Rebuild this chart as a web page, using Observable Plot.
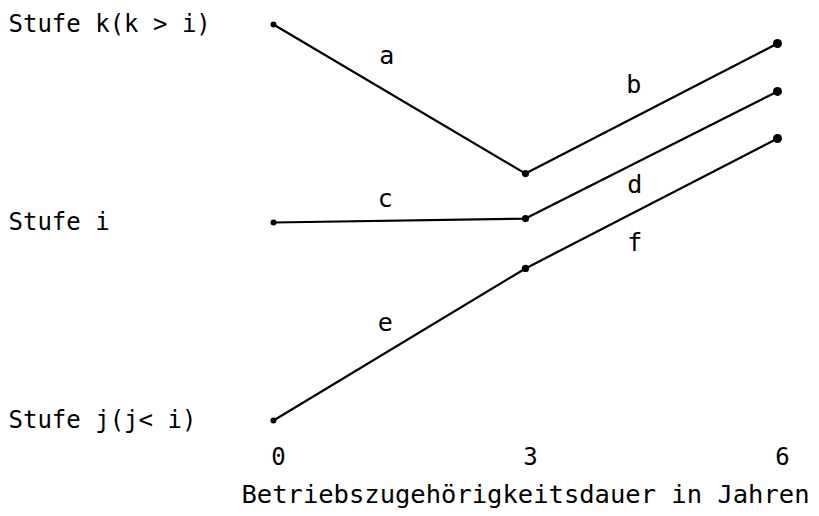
<!DOCTYPE html>
<html>
<head>
<meta charset="utf-8">
<script src="https://cdn.jsdelivr.net/npm/d3@7"></script>
<script src="https://cdn.jsdelivr.net/npm/@observablehq/plot@0.6"></script>
<style>
  html, body { margin: 0; padding: 0; background: #fff; }
</style>
</head>
<body>
<div id="chart"></div>
<script>
// Years of tenure (x) and pay levels (y)
const years = [0, 3, 6];
const yearLabels = ["0", "3", "6"];
const levelValues = [0, 1, 2];
const levelLabels = ["Stufe j(j< i)", "Stufe i", "Stufe k(k > i)"];

// Three paths, value at years 0, 3, 6
const seriesK = [2, 1.247, 1.904];   // segments a, b
const seriesI = [1, 1.02, 1.662];    // segments c, d
const seriesJ = [0, 0.768, 1.424];   // segments e, f

// Segment labels (data units)
const segmentNames = ["a", "b", "c", "d", "e", "f"];
const segmentX = [1.35, 4.29, 1.33, 4.30, 1.33, 4.30];
const segmentY = [1.843, 1.692, 1.121, 1.187, 0.49, 0.894];

const xTitle = "Betriebszugehörigkeitsdauer in Jahren";

const allSeries = [seriesK, seriesI, seriesJ];
const points = allSeries.flatMap((s, si) =>
  years.map((x, xi) => ({series: si, x, y: s[xi], idx: xi}))
);
const levels = levelValues.map((v, i) => ({y: v, label: levelLabels[i]}));
const segments = segmentNames.map((n, i) => ({x: segmentX[i], y: segmentY[i], name: n}));

const chart = Plot.plot({
  width: 819,
  height: 516,
  marginLeft: 273,
  marginRight: 42,
  marginTop: 24,
  marginBottom: 96,
  style: {fontFamily: "DejaVu Sans Mono", fontSize: "24px", color: "#000", background: "#fff"},
  x: {domain: [0, 6]},
  y: {domain: [0, 2], axis: null},
  marks: [
    Plot.line(points, {x: "x", y: "y", z: "series", stroke: "#000", strokeWidth: 2.2}),
    Plot.dot(points.filter(d => d.idx === 0), {x: "x", y: "y", r: 3, fill: "#000"}),
    Plot.dot(points.filter(d => d.idx === 1), {x: "x", y: "y", r: 3.6, fill: "#000"}),
    Plot.dot(points.filter(d => d.idx === 2), {x: "x", y: "y", r: 4.5, fill: "#000"}),
    Plot.text(levels, {y: "y", text: "label", frameAnchor: "left", textAnchor: "start", dx: -265, fontSize: 24, fill: "#000"}),
    Plot.text(segments, {x: "x", y: "y", text: "name", fontSize: 25, fill: "#000"}),
    Plot.axisX({ticks: years, tickFormat: (d, i) => yearLabels[years.indexOf(d)], tickSize: 0, tickPadding: 27, dx: 5, label: null, fontSize: 24, fill: "#000"}),
    Plot.text([xTitle], {frameAnchor: "bottom", text: d => d, dy: 82, fontSize: 25.5, fill: "#000"})
  ]
});

document.getElementById("chart").appendChild(chart);
</script>
</body>
</html>
